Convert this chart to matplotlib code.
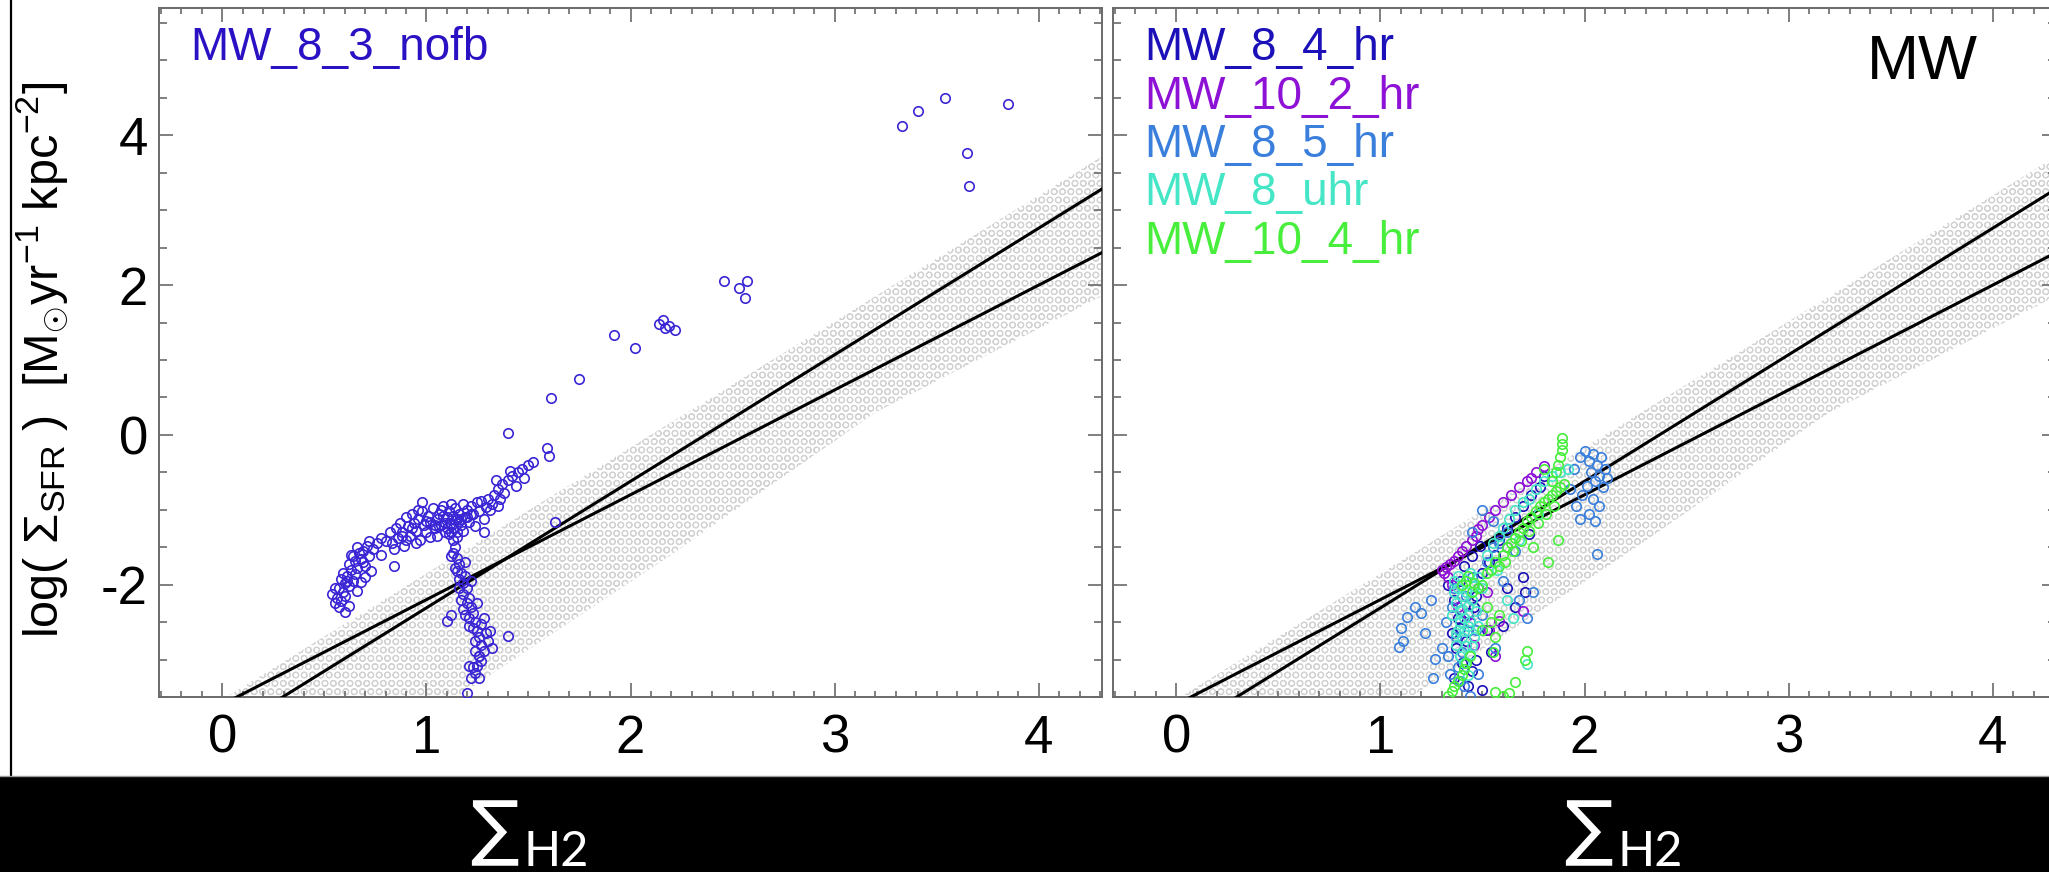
import matplotlib
matplotlib.use("Agg")
import matplotlib.pyplot as plt
from matplotlib.patches import Rectangle, Polygon
from matplotlib.lines import Line2D
from matplotlib.ticker import FixedLocator, MultipleLocator

plt.rcParams["font.family"] = ["Liberation Sans", "DejaVu Sans"]
plt.rcParams["mathtext.fontset"] = "custom"
plt.rcParams["mathtext.rm"] = "Liberation Sans"
plt.rcParams["mathtext.it"] = "Liberation Sans:italic"
plt.rcParams["axes.unicode_minus"] = False
plt.rcParams["hatch.linewidth"] = 0.8

# ---------------- data ----------------
x_ticks = [0, 1, 2, 3, 4]
y_ticks = [-2, 0, 2, 4]
x_range = (-0.31, 4.31)
y_range = (-3.5, 5.7)

# two star-formation relations: log SFR = slope * log Sigma_H2 + intercept
rel_slope = [1.40, 1.69]
rel_intercept = [-3.60, -4.00]

# outline of the observed (dotted) region
band_x = [0.02, 4.40, 4.40, 3.20, 2.20, 1.15]
band_y = [-3.50, 3.87, 1.98, 0.30, -1.60, -3.50]

# MW_8_3_nofb
nofb_x = [
    0.55, 0.56, 0.54, 0.57, 0.58, 0.57, 0.59, 0.60, 0.58, 0.61, 0.62, 0.60, 0.63, 0.62,
    0.64, 0.65, 0.64, 0.66, 0.67, 0.66, 0.68, 0.69, 0.70, 0.71, 0.72, 0.73, 0.74, 0.70,
    0.66, 0.62, 0.60, 0.76, 0.78, 0.68, 0.84, 0.55, 0.59, 0.63, 0.61, 0.65, 0.69, 0.72,
    0.78, 0.80, 0.82, 0.83, 0.85, 0.86, 0.87, 0.88, 0.89, 0.90, 0.91, 0.92, 0.93, 0.94,
    0.95, 0.96, 0.97, 0.98, 0.99, 1.00, 1.01, 1.02, 1.03, 1.04, 1.05, 1.06, 1.07, 1.08,
    1.09, 1.10, 1.11, 1.12, 1.13, 1.14, 1.15, 1.16, 1.17, 1.18, 1.19, 1.20, 1.21, 1.22,
    1.23, 1.24, 1.25, 1.26, 1.27, 1.28, 1.29, 1.30, 1.31, 1.32, 1.05, 1.00, 0.96, 1.10,
    1.14, 1.18, 0.90, 0.84, 1.08, 1.12, 1.02, 0.95, 1.35, 1.28, 1.22, 1.16, 1.06, 0.98,
    1.09, 1.13, 1.17, 1.11, 1.04, 0.93, 0.88, 1.20, 1.15, 1.07,
    1.33, 1.35, 1.36, 1.37, 1.38, 1.40, 1.42, 1.44, 1.45, 1.47, 1.48, 1.50, 1.52, 1.34, 1.41,
    1.12, 1.13, 1.14, 1.15, 1.13, 1.15, 1.16, 1.14, 1.17, 1.16, 1.18, 1.19, 1.20, 1.18,
    1.21, 1.20, 1.22, 1.23, 1.21, 1.24, 1.23, 1.25, 1.26, 1.24, 1.27, 1.28, 1.26, 1.27,
    1.25, 1.23, 1.21, 1.24, 1.20, 1.16, 1.19, 1.10, 1.12, 1.22, 1.17, 1.25, 1.29, 1.28,
    1.19, 1.12, 1.40, 1.30, 1.32, 1.31, 1.22, 1.26, 1.26, 1.15, 1.18, 1.21, 1.24, 1.27,
    1.40, 1.59, 1.60, 1.63, 1.61, 1.75, 1.92, 2.02, 2.14, 2.16, 2.19, 2.22, 2.17, 2.46,
    2.53, 2.57, 2.56, 3.33, 3.41, 3.54, 3.85, 3.65, 3.66,
]
nofb_y = [
    -2.25, -2.18, -2.12, -2.30, -2.22, -2.05, -2.10, -1.98, -1.92, -1.88, -2.02, -2.15, -1.80, -1.72,
    -1.95, -1.68, -1.62, -1.78, -1.58, -1.50, -1.66, -1.55, -1.75, -1.48, -1.62, -1.82, -1.52, -1.90,
    -2.08, -2.28, -2.36, -1.45, -1.60, -1.97, -1.75, -2.05, -1.85, -1.60, -1.95, -1.86, -1.70, -1.42,
    -1.38, -1.42, -1.30, -1.45, -1.25, -1.38, -1.18, -1.30, -1.48, -1.10, -1.22, -1.35, -1.05, -1.18,
    -1.28, -1.12, -1.40, -1.02, -1.20, -1.30, -1.08, -1.16, -0.98, -1.25, -1.12, -1.05, -1.20, -0.95,
    -1.30, -1.10, -1.02, -1.18, -1.25, -0.98, -1.12, -1.05, -1.20, -0.92, -1.10, -1.00, -1.16, -0.95,
    -1.06, -1.22, -0.90, -1.02, -0.88, -1.12, -0.96, -0.85, -1.00, -0.92, -1.35, -1.15, -1.00, -1.25,
    -1.14, -1.28, -1.40, -1.52, -1.08, -0.92, -1.36, -1.45, -0.95, -1.30, -1.05, -1.15, -1.22, -0.90,
    -1.18, -1.08, -1.12, -1.32, -1.20, -1.25, -1.35, -1.10, -1.30, -1.00,
    -0.80, -0.72, -0.85, -0.65, -0.78, -0.60, -0.55, -0.68, -0.50, -0.45, -0.58, -0.40, -0.36, -0.60, -0.48,
    -1.30, -1.40, -1.50, -1.36, -1.58, -1.65, -1.72, -1.78, -1.85, -1.92, -1.98, -1.88, -2.05, -2.12,
    -2.18, -2.25, -2.30, -2.38, -2.45, -2.50, -2.58, -2.62, -2.70, -2.75, -2.80, -2.88, -2.95, -3.02,
    -3.08, -3.10, -3.08, -3.18, -3.45, -2.05, -2.40, -2.48, -2.40, -1.95, -2.20, -2.25, -2.65, -2.45,
    -1.70, -1.62, -2.68, -2.75, -2.85, -2.62, -3.24, -2.95, -3.24, -1.82, -2.32, -2.55, -2.88, -2.52,
    0.02, -0.17, -0.28, -1.16, 0.49, 0.75, 1.34, 1.16, 1.48, 1.53, 1.45, 1.40, 1.43, 2.06,
    1.96, 2.06, 1.83, 4.12, 4.33, 4.50, 4.42, 3.77, 3.32,
]

# MW_8_4_hr
hr84_x = [1.33, 1.36, 1.38, 1.35, 1.37, 1.40, 1.42, 1.44, 1.46, 1.39, 1.48, 1.50, 1.52, 1.54,
          1.45, 1.43, 1.47, 1.56, 1.58, 1.62, 1.66, 1.70, 1.74, 1.78, 1.70, 1.71, 1.66, 1.62,
          1.41, 1.45, 1.49, 1.53, 1.73, 1.80, 1.60, 1.36, 1.50, 1.39, 1.43, 1.47]
hr84_y = [-2.00, -2.20, -2.45, -2.65, -2.85, -3.05, -2.75, -2.50, -2.30, -1.95, -2.05, -1.85, -2.60, -2.90,
          -3.15, -3.35, -3.00, -1.60, -1.40, -1.25, -1.10, -0.95, -0.80, -0.70, -1.90, -2.10, -2.30, -2.05,
          -1.75, -1.62, -1.48, -1.70, -1.32, -0.55, -2.55, -3.25, -3.40, -2.58, -2.38, -2.15]

# MW_10_2_hr
hr102_x = [1.30, 1.32, 1.34, 1.31, 1.36, 1.38, 1.33, 1.35, 1.40, 1.42, 1.45, 1.48, 1.50, 1.47,
           1.53, 1.56, 1.60, 1.64, 1.68, 1.72, 1.74, 1.76, 1.80, 1.58, 1.70, 1.53, 1.52, 1.43,
           1.46, 1.56, 1.38, 1.62]
hr102_y = [-1.80, -1.76, -1.72, -1.85, -1.68, -1.62, -1.90, -2.00, -1.55, -1.48, -1.40, -1.26, -1.20, -1.35,
           -1.10, -1.00, -0.90, -0.80, -0.70, -0.62, -0.58, -0.50, -0.41, -2.48, -2.35, -2.60, -2.10, -2.40,
           -2.80, -2.95, -2.30, -1.50]

# MW_8_5_hr
hr85_x = [1.09, 1.10, 1.13, 1.17, 1.11, 1.20, 1.25, 1.26, 1.27, 1.22, 1.30, 1.34, 1.48, 1.56,
          1.32, 1.35, 1.37, 1.40, 1.38, 1.41, 1.44, 1.36, 1.42, 1.45, 1.47, 1.50, 1.52, 1.55,
          1.58, 1.62, 1.66, 1.68, 1.72, 1.75, 1.60, 1.45, 1.50, 1.55, 1.33, 1.39, 1.43,
          1.98, 2.00, 2.02, 2.04, 2.06, 2.08, 2.03, 2.05, 2.07, 2.10, 2.09, 2.01, 1.99, 2.04,
          2.07, 2.02, 1.98, 2.05, 2.06, 1.96, 1.93, 2.11, 1.95]
hr85_y = [-2.83, -2.58, -2.43, -2.30, -2.75, -2.38, -2.20, -3.24, -2.99, -2.65, -2.85, -3.19, -3.19, -2.84,
          -2.50, -2.30, -2.70, -2.90, -3.10, -3.35, -3.48, -2.05, -2.15, -1.90, -2.60, -2.40, -1.70, -1.50,
          -1.45, -1.30, -1.55, -2.20, -2.45, -2.10, -1.95, -1.30, -1.00, -1.15, -2.95, -3.28, -2.62,
          -0.30, -0.22, -0.35, -0.25, -0.40, -0.30, -0.50, -0.62, -0.55, -0.45, -0.70, -0.68, -0.80, -0.85,
          -0.95, -1.05, -1.12, -1.15, -1.59, -0.95, -0.72, -0.58, -0.45]

# MW_8_uhr
uhr8_x = [1.36, 1.38, 1.40, 1.37, 1.39, 1.41, 1.43, 1.38, 1.40, 1.42, 1.44, 1.39, 1.41, 1.45,
          1.47, 1.46, 1.48, 1.44, 1.50, 1.35, 1.37, 1.43, 1.52, 1.55, 1.58, 1.60, 1.63, 1.66,
          1.70, 1.73, 1.76, 1.80, 1.84, 1.88, 1.92, 1.72, 1.62, 1.65, 1.57, 1.68, 1.77,
          1.36, 1.38, 1.40, 1.42, 1.44, 1.46, 1.39, 1.41, 1.43, 1.37, 1.45, 1.48]
uhr8_y = [-1.95, -2.05, -2.15, -2.25, -2.35, -2.45, -2.55, -2.60, -2.70, -2.82, -2.92, -2.95, -3.05, -2.20,
          -2.35, -2.70, -1.90, -1.85, -2.05, -2.40, -2.80, -3.20, -1.60, -1.45, -1.35, -1.25, -1.12, -1.00,
          -0.90, -0.85, -0.72, -0.62, -0.55, -0.50, -0.45, -3.06, -2.20, -2.45, -1.80, -1.40, -1.05,
          -2.10, -1.88, -2.32, -2.10, -2.48, -2.02, -2.50, -2.62, -2.28, -2.65, -2.82, -2.55]

# MW_10_4_hr
hr104_x = [1.33, 1.35, 1.36, 1.38, 1.40, 1.41, 1.42, 1.44,
           1.40, 1.42, 1.45, 1.48, 1.50, 1.52, 1.54, 1.56, 1.58, 1.60, 1.62, 1.64, 1.66, 1.68,
           1.70, 1.72, 1.74, 1.76, 1.78, 1.80, 1.82, 1.84, 1.86, 1.88, 1.90, 1.52, 1.54, 1.56,
           1.58, 1.50, 1.55, 1.61, 1.65, 1.69, 1.73, 1.77, 1.81, 1.85, 1.43, 1.46,
           1.89, 1.89, 1.89, 1.88, 1.87, 1.86, 1.80, 1.84,
           1.72, 1.71, 1.66, 1.56, 1.63, 1.82, 1.87, 1.75, 1.60]
hr104_y = [-3.48, -3.42, -3.35, -3.28, -3.20, -3.12, -3.05, -2.95,
           -2.00, -1.95, -2.10, -2.05, -2.00, -1.85, -1.80, -1.70, -1.75, -1.60, -1.50, -1.45, -1.38, -1.30,
           -1.25, -1.15, -1.10, -1.02, -0.95, -0.90, -0.85, -0.80, -0.75, -0.70, -0.65, -2.30, -2.50, -2.70,
           -2.40, -2.60, -2.90, -1.70, -1.55, -1.42, -1.28, -1.18, -1.05, -0.95, -1.88, -1.98,
           -0.04, -0.12, -0.20, -0.30, -0.40, -0.50, -0.45, -0.62,
           -2.88, -3.00, -3.30, -3.43, -3.45, -1.70, -1.41, -1.50, -3.48]

right_series = [
    ("MW_8_4_hr", hr84_x, hr84_y, "#1c10b8"),
    ("MW_10_2_hr", hr102_x, hr102_y, "#8e12d6"),
    ("MW_8_5_hr", hr85_x, hr85_y, "#3a7fdc"),
    ("MW_8_uhr", uhr8_x, uhr8_y, "#44e6c6"),
    ("MW_10_4_hr", hr104_x, hr104_y, "#48ee3c"),
]

# ---------------- figure ----------------
W, H = 2049, 872
fig = plt.figure(figsize=(W / 100, H / 100), dpi=100)
fig.patch.set_facecolor("white")


def axes_px(left, top, right, bottom):
    return fig.add_axes([left / W, 1 - bottom / H, (right - left) / W, (bottom - top) / H])


axL = axes_px(159, 8, 1102, 697)
axR = axes_px(1113, 8, 2056, 697)

frame_col = "#6a6a6a"


def style(ax, ylabels):
    ax.set_xlim(*x_range)
    ax.set_ylim(*y_range)
    ax.xaxis.set_major_locator(FixedLocator(x_ticks))
    ax.yaxis.set_major_locator(FixedLocator(y_ticks))
    ax.xaxis.set_minor_locator(MultipleLocator(0.1))
    ax.yaxis.set_minor_locator(MultipleLocator(0.5))
    ax.tick_params(which="both", direction="in", top=True, right=True, color=frame_col,
                   width=1.2)
    ax.tick_params(which="major", length=10)
    ax.tick_params(axis="x", which="minor", length=4)
    ax.tick_params(axis="y", which="minor", length=6)
    ax.tick_params(axis="x", which="major", labelsize=38, pad=12)
    ax.tick_params(axis="y", which="major", labelsize=38, pad=8, labelleft=ylabels)
    for s in ax.spines.values():
        s.set_color(frame_col)
        s.set_linewidth(1.4)
    ax.set_facecolor("none")


def draw_relations(ax):
    band = Polygon(list(zip(band_x, band_y)), closed=True, facecolor="none",
                   edgecolor="#d2d2d2", linewidth=0, hatch="OO", zorder=1)
    ax.add_patch(band)
    for k, b in zip(rel_slope, rel_intercept):
        xs = list(x_range)
        ax.plot(xs, [k * v + b for v in xs], color="black", lw=2.2, zorder=3)


for ax, lab in ((axL, True), (axR, False)):
    style(ax, lab)
    draw_relations(ax)

axL.plot(nofb_x, nofb_y, "o", mfc="none", mec="#3a26d4", mew=1.2, ms=6.8, zorder=4)
axL.text(-0.155, 5.0, "MW_8_3_nofb", color="#2a12c4", fontsize=33, va="baseline", ha="left")

for i, (name, xs, ys, col) in enumerate(right_series):
    axR.plot(xs, ys, "o", mfc="none", mec=col, mew=1.2, ms=6.8, zorder=4 + i)
    axR.text(-0.155, 5.0 - i * 0.645, name, color=col, fontsize=33, va="baseline", ha="left")

axR.text(3.655, 4.75, "MW", color="black", fontsize=45, va="baseline", ha="center")

# y-axis title
fig.text(43 / W, 1 - 360 / H, r"log( Σ$_{\rm SFR}$ )  [M$_{\odot}$yr$^{-1}$ kpc$^{-2}$]",
         rotation=90, ha="center", va="center", fontsize=35)

# left border line
fig.add_artist(Line2D([11 / W, 11 / W], [1 - 777 / H, 1], transform=fig.transFigure,
                      color="black", lw=1.6))

# dark band with axis names
band_top = 1 - 777 / H
fig.add_artist(Rectangle((0, 0), 1, band_top, transform=fig.transFigure,
                         facecolor="black", edgecolor="none", zorder=0))
fig.add_artist(Line2D([0, 1], [band_top + 1.5 / H, band_top + 1.5 / H],
                      transform=fig.transFigure, color="#9a9a9a", lw=1.0))

for x0 in (470, 1564):
    fig.text(x0 / W, 1 - 852 / H, "∑", color="white", fontsize=52, ha="left",
             va="baseline", family=["DejaVu Sans"])
    fig.text((x0 + 54) / W, 1 - 866 / H, "H2", color="white", fontsize=35, ha="left",
             va="baseline", family=["Lato", "DejaVu Sans"])

fig.savefig("out.png", dpi=100, facecolor="white")
